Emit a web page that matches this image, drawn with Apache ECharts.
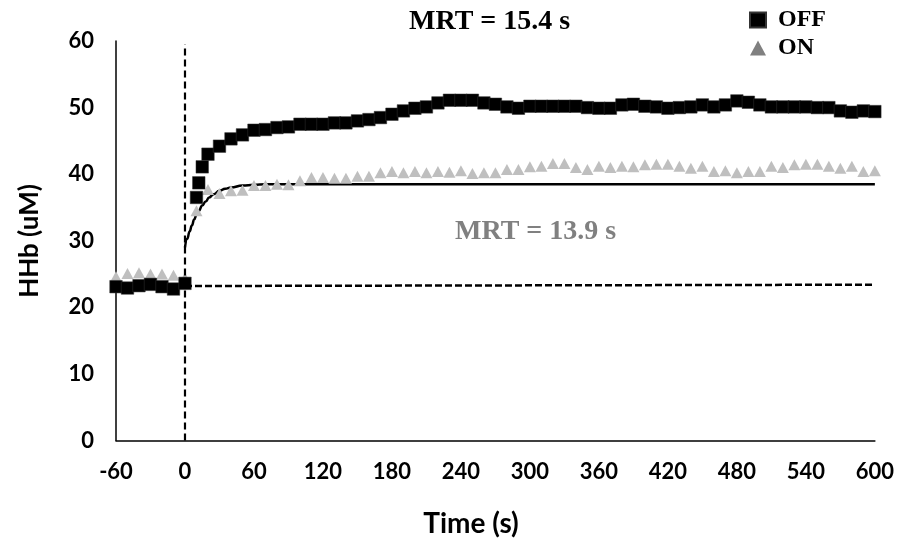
<!DOCTYPE html>
<html>
<head>
<meta charset="utf-8">
<script src="https://cdn.jsdelivr.net/npm/echarts@6/dist/echarts.min.js"></script>
<style>html,body{margin:0;padding:0;background:#fff;}#c{width:897px;height:541px;}</style>
</head>
<body>
<div id="c"></div>
<script>
// ---- data ----
const offTime = [-60,-50,-40,-30,-20,-10,0,10,12,15,20,30,40,50,60,70,80,90,100,110,120,130,140,150,160,170,180,190,200,210,220,230,240,250,260,270,280,290,300,310,320,330,340,350,360,370,380,390,400,410,420,430,440,450,460,470,480,490,500,510,520,530,540,550,560,570,580,590,600];
const offValues = [23.1,22.9,23.25,23.45,23.1,22.75,23.6,36.5,38.7,41.1,43.0,44.2,45.3,45.9,46.6,46.7,47.0,47.1,47.5,47.5,47.5,47.7,47.7,48.0,48.2,48.5,49.0,49.5,49.9,50.1,50.7,51.1,51.1,51.1,50.7,50.5,50.1,49.9,50.2,50.2,50.2,50.2,50.2,50.0,49.9,49.9,50.4,50.5,50.2,50.1,49.9,50.0,50.1,50.4,50.1,50.4,51.0,50.8,50.4,50.1,50.1,50.1,50.1,50.0,50.0,49.5,49.3,49.5,49.4];

const onTime = [-60,-50,-40,-30,-20,-10,0,10,20,30,40,50,60,70,80,90,100,110,120,130,140,150,160,170,180,190,200,210,220,230,240,250,260,270,280,290,300,310,320,330,340,350,360,370,380,390,400,410,420,430,440,450,460,470,480,490,500,510,520,530,540,550,560,570,580,590,600];
const onValues = [24.6,25.1,25.2,25.0,25.0,24.8,24.4,34.5,37.7,37.1,37.5,37.6,38.3,38.3,38.5,38.4,39.0,39.5,39.5,39.4,39.4,39.7,39.7,40.2,40.4,40.2,40.4,40.2,40.4,40.3,40.5,40.1,40.2,40.2,40.7,40.7,41.1,41.2,41.6,41.6,41.0,40.7,41.2,41.0,41.2,41.1,41.4,41.5,41.5,41.2,40.9,41.2,40.4,40.5,40.2,40.4,40.4,41.2,41.0,41.4,41.5,41.5,41.2,40.9,41.2,40.4,40.5];

const fitTime = [0,2,4,6,8,10,12,15,18,21,25,30,35,40,50,60,70,80,100,600];
const fitValues = [29.0,30.3,31.4,32.3,33.2,33.9,34.5,35.3,35.9,36.5,37.0,37.5,37.8,38.0,38.3,38.4,38.5,38.5,38.5,38.5];

const baseTime = [0,600];
const baseValues = [23.2,23.4];

const onsetTime = [0,0];
const onsetValues = [0,59.5];

const xMin = -60, xMax = 600, xStep = 60;
const yMin = 0, yMax = 60, yStep = 10;

const seriesNames = ['OFF','ON'];
const mrtOff = 'MRT = 15.4 s';
const mrtOn = 'MRT = 13.9 s';
const xTitle = 'Time (s)';
const yTitle = 'HHb (uM)';

const zip = (a,b) => a.map((v,i)=>[v,b[i]]);

const chart = echarts.init(document.getElementById('c'), null, {renderer:'canvas'});
const tickFont = {fontFamily:'Lato', fontWeight:'bold', fontSize:22, color:'#000'};
chart.setOption({
  animation:false,
  backgroundColor:'#fff',
  grid:{left:116, right:20, top:41, bottom:100.5, containLabel:false},
  xAxis:{type:'value', min:xMin, max:xMax, interval:xStep,
    axisLine:{show:true, onZero:false, lineStyle:{color:'#000', width:1.5}},
    axisTick:{show:false}, splitLine:{show:false},
    axisLabel:Object.assign({margin:20}, tickFont)},
  yAxis:{type:'value', min:yMin, max:yMax, interval:yStep,
    axisLine:{show:true, onZero:false, lineStyle:{color:'#000', width:1.5}},
    axisTick:{show:false}, splitLine:{show:false},
    axisLabel:Object.assign({margin:22}, tickFont)},
  legend:{orient:'vertical', left:744, top:3, itemWidth:16, itemHeight:15, itemGap:4,
    textStyle:{fontFamily:'Liberation Serif', fontWeight:'bold', fontSize:24, color:'#000', padding:[0,0,0,7]},
    data:[{name:seriesNames[0], icon:'rect', itemStyle:{color:'#000', opacity:1}},
          {name:seriesNames[1], icon:'triangle', itemStyle:{color:'#808080', opacity:1}}]},
  graphic:[
    {type:'text', left:409, top:8, style:{text:mrtOff, font:'bold 28px "Liberation Serif"', fill:'#000'}},
    {type:'text', left:455, top:218, style:{text:mrtOn, font:'bold 28px "Liberation Serif"', fill:'#808080'}},
    {type:'text', x:30, y:241, rotation:Math.PI/2, style:{text:yTitle, font:'bold 26px Lato', fill:'#000', align:'center', verticalAlign:'middle'}},
    {type:'text', x:471, y:524, style:{text:xTitle, font:'bold 28px Lato', fill:'#000', align:'center', verticalAlign:'middle'}}
  ],
  series:[
    {name:'fit', type:'line', data:zip(fitTime,fitValues), showSymbol:false, smooth:true, smoothMonotone:'x',
      lineStyle:{color:'#000', width:2.5}, z:1},
    {name:seriesNames[1], type:'scatter', data:zip(onTime,onValues), symbol:'triangle', symbolSize:[12,11],
      itemStyle:{color:'#bfbfbf', opacity:1}, z:2},
    {name:seriesNames[0], type:'scatter', data:zip(offTime,offValues), symbol:'rect', symbolSize:12.5,
      itemStyle:{color:'#000', opacity:1, borderColor:'#333', borderWidth:0.5}, z:3},
    {name:'baseline', type:'line', data:zip(baseTime,baseValues), showSymbol:false,
      lineStyle:{color:'#000', width:2.5, type:[7,3]}, z:4},
    {name:'onset', type:'line', data:zip(onsetTime,onsetValues), showSymbol:false,
      lineStyle:{color:'#000', width:2.2, type:[7,4]}, z:4}
  ]
});
</script>
</body>
</html>
